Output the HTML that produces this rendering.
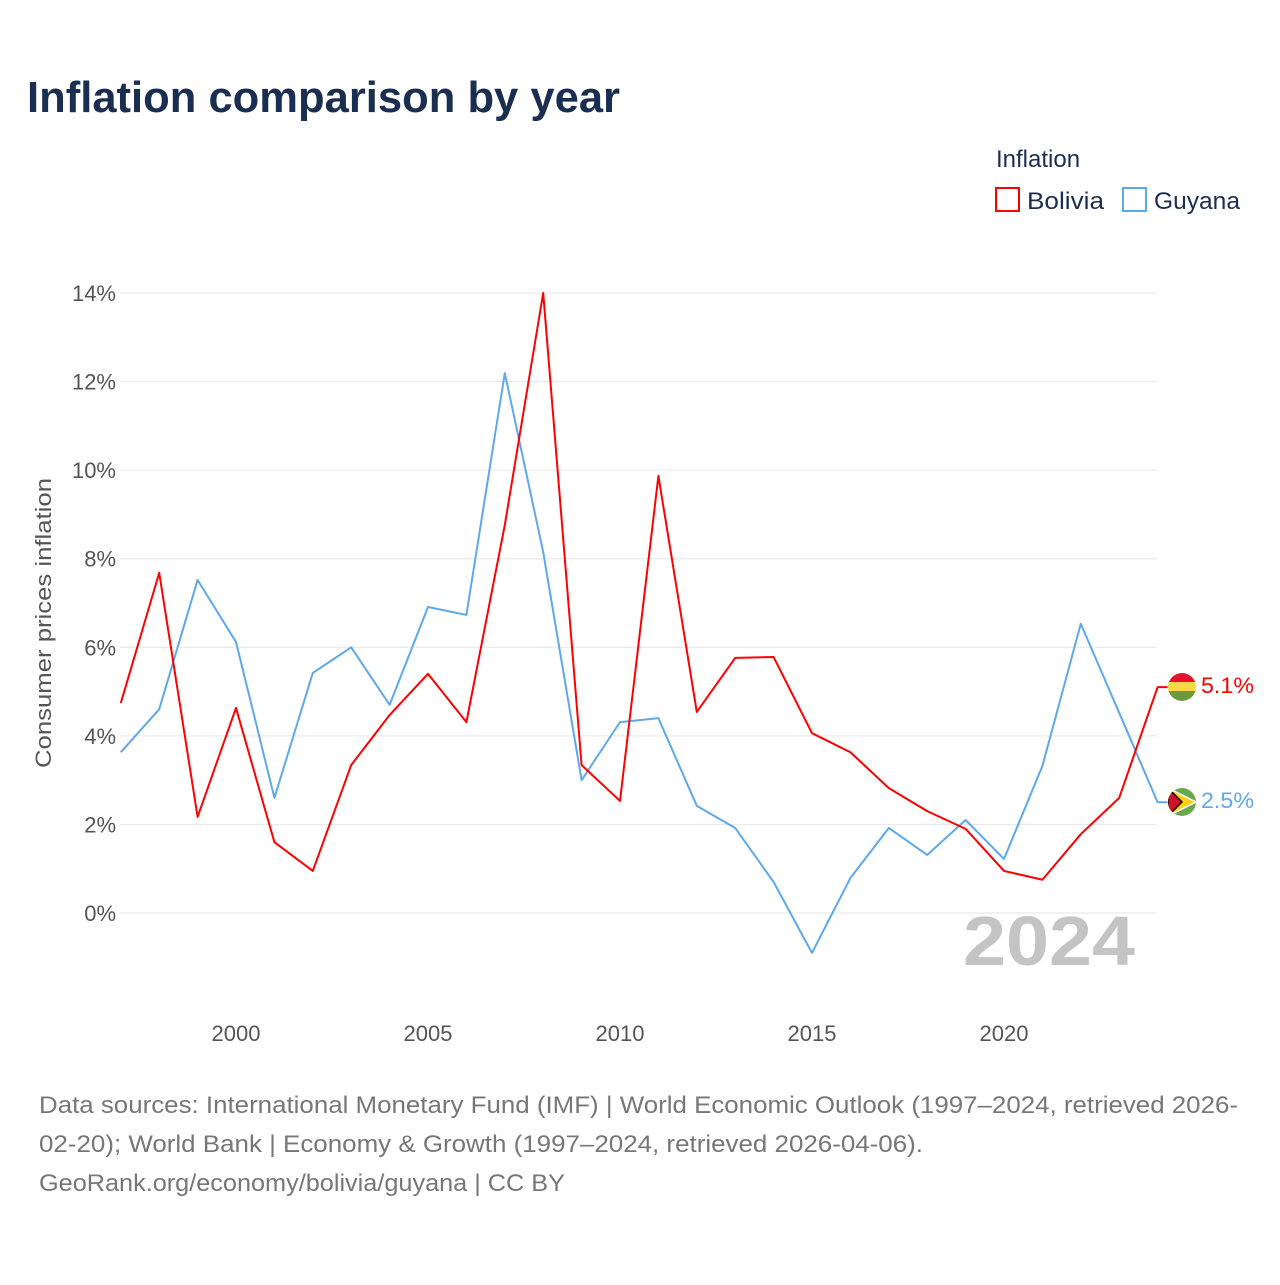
<!DOCTYPE html>
<html><head><meta charset="utf-8"><style>
body{margin:0;background:#fff;font-family:"Liberation Sans",sans-serif;}
#wrap{position:relative;width:1280px;height:1280px;}
</style></head><body>
<div id="wrap">
<svg id="svg" width="1280" height="1280" xmlns="http://www.w3.org/2000/svg" style="font-family:'Liberation Sans',sans-serif">
<text x="27" y="112" font-size="44" font-weight="bold" fill="#1a2e52" textLength="593" lengthAdjust="spacingAndGlyphs">Inflation comparison by year</text>
<text x="996" y="167" font-size="24" fill="#1a2e52">Inflation</text>
<g><rect x="996" y="188" width="23" height="23" fill="none" stroke="#ff0000" stroke-width="2"/><text x="1027" y="209" font-size="24" fill="#1a2e52" textLength="77" lengthAdjust="spacingAndGlyphs">Bolivia</text></g>
<g><rect x="1123" y="188" width="23" height="23" fill="none" stroke="#5ea8ec" stroke-width="2"/><text x="1154" y="209" font-size="24" fill="#1a2e52" textLength="86" lengthAdjust="spacingAndGlyphs">Guyana</text></g>
<g id="grid"></g>
<text transform="translate(51,623) rotate(-90)" text-anchor="middle" font-size="22" fill="#555" textLength="290" lengthAdjust="spacingAndGlyphs">Consumer prices inflation</text>
<text x="963" y="965" font-size="70" font-weight="bold" fill="#c4c4c4" textLength="172" lengthAdjust="spacingAndGlyphs">2024</text>
<g id="series"></g>
<g><clipPath id="cb"><circle cx="1182" cy="687" r="14"/></clipPath><g clip-path="url(#cb)"><rect x="1168" y="673" width="28" height="10" fill="#e4112f"/><rect x="1168" y="682" width="28" height="10" fill="#f6d84a"/><rect x="1168" y="691" width="28" height="10" fill="#6b9a3f"/></g></g>
<g><clipPath id="cg"><circle cx="1182" cy="802" r="14"/></clipPath><g clip-path="url(#cg)"><rect x="1168" y="788" width="28" height="28" fill="#6aa84f"/><polygon points="1168,788 1196,802 1168,816" fill="#fcd116" stroke="#fff" stroke-width="1.5"/><polygon points="1168,788 1182,802 1168,816" fill="#ce1126" stroke="#000" stroke-width="1.5"/></g></g>
<text x="1201" y="693" font-size="22" fill="#ff0000" textLength="53" lengthAdjust="spacingAndGlyphs">5.1%</text>
<text x="1201" y="808" font-size="22" fill="#5ea8ec" textLength="53" lengthAdjust="spacingAndGlyphs">2.5%</text>
<text font-size="24" fill="#777"><tspan x="39" y="1113" textLength="1199" lengthAdjust="spacingAndGlyphs">Data sources: International Monetary Fund (IMF) | World Economic Outlook (1997–2024, retrieved 2026-</tspan><tspan x="39" y="1152" textLength="884" lengthAdjust="spacingAndGlyphs">02-20); World Bank | Economy &amp; Growth (1997–2024, retrieved 2026-04-06).</tspan><tspan x="39" y="1191" textLength="526" lengthAdjust="spacingAndGlyphs">GeoRank.org/economy/bolivia/guyana | CC BY</tspan></text>
</svg></div>
<script>
const years=[1997,1998,1999,2000,2001,2002,2003,2004,2005,2006,2007,2008,2009,2010,2011,2012,2013,2014,2015,2016,2017,2018,2019,2020,2021,2022,2023,2024];
const bolivia=[4.74,7.68,2.17,4.63,1.6,0.95,3.34,4.47,5.4,4.31,8.76,14.0,3.34,2.53,9.87,4.54,5.76,5.78,4.06,3.63,2.82,2.3,1.9,0.95,0.75,1.78,2.6,5.1];
const guyana=[3.63,4.6,7.52,6.12,2.6,5.42,6.0,4.7,6.91,6.73,12.19,8.15,3.0,4.31,4.4,2.42,1.92,0.7,-0.9,0.79,1.92,1.31,2.1,1.22,3.32,6.53,4.52,2.5];
const yTicks=[0,2,4,6,8,10,12,14];
const xTicks=[2000,2005,2010,2015,2020];
const NS="http://www.w3.org/2000/svg";
const x=v=>236+(v-2000)*38.4;
const y=v=>913-v*44.286;
const grid=document.getElementById('grid');
function mk(t,a,p){const e=document.createElementNS(NS,t);for(const k in a)e.setAttribute(k,a[k]);p.appendChild(e);return e;}
yTicks.forEach(t=>{
 const l=mk('line',{x1:120,x2:1157,y1:y(t),y2:y(t),stroke:'#e6e6e6','stroke-width':1},grid);
 
 
 const tx=mk('text',{x:116,y:y(t)+8,'text-anchor':'end','font-size':22,fill:'#555'},grid);
 tx.textContent=t+'%';
 
 
});
xTicks.forEach(t=>{
 const tx=mk('text',{x:x(t),y:1041,'text-anchor':'middle','font-size':22,fill:'#555'},grid);
 tx.textContent=t;
 
 
});
const s=document.getElementById('series');
function line(vals,col,name){
 const p=mk('polyline',{points:vals.map((v,i)=>x(years[i])+','+y(v)).join(' ')+' '+(x(years[years.length-1])+10)+','+y(vals[vals.length-1]),fill:'none',stroke:col,'stroke-width':2,'stroke-linejoin':'round'},s);
 
 
}
line(guyana,'#5ea8ec','line-guyana');
line(bolivia,'#ff0000','line-bolivia');
</script>
</body></html>
